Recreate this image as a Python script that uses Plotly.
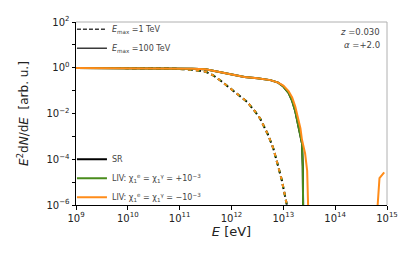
import plotly.graph_objects as go

# ---- data ----
# Emax = 100 TeV (solid)
E_solid = [1e9, 1e10, 3.16e10, 1e11, 1.78e11, 3.16e11, 5.62e11, 1e12, 1.78e12, 3.16e12,
           5.62e12, 7.94e12, 1e13, 1.26e13, 1.48e13, 1.70e13, 1.95e13, 2.14e13, 2.29e13,
           2.37e13, 2.43e13]
sr_solid = [0.977, 0.977, 0.955, 0.933, 0.912, 0.851, 0.661, 0.479, 0.398, 0.347,
            0.288, 0.224, 0.151, 0.0794, 0.0355, 0.0126, 0.00316, 0.00112, 5.0e-4,
            5.0e-5, 1e-7]
livp_solid = [0.977, 0.977, 0.955, 0.933, 0.912, 0.851, 0.661, 0.479, 0.398, 0.347,
              0.288, 0.224, 0.151, 0.0794, 0.0355, 0.0126, 0.00316, 0.00112, 5.0e-4,
              5.0e-5, 1e-7]
E_livm_solid = [1e9, 1e10, 3.16e10, 1e11, 1.78e11, 3.16e11, 5.62e11, 1e12, 1.78e12, 3.16e12,
                5.62e12, 7.94e12, 1e13, 1.26e13, 1.48e13, 1.70e13, 1.95e13, 2.14e13, 2.29e13,
                2.63e13, 2.88e13, 2.99e13, 3.09e13, None, 6.17e14, 7.16e14, 8.83e14]
livm_solid = [0.977, 0.977, 0.955, 0.933, 0.912, 0.851, 0.661, 0.479, 0.398, 0.347,
              0.288, 0.224, 0.166, 0.0955, 0.0501, 0.020, 0.0063, 0.00224, 7.1e-4,
              1.8e-4, 3.2e-5, 4e-6, 1e-7, None, 1e-7, 1.48e-5, 2.7e-5]

# Emax = 1 TeV (dashed)
E_dashed = [1e9, 1e10, 3.16e10, 1e11, 2e11, 3.16e11, 4.42e11, 6.31e11, 9.33e11, 1.41e12,
            2e12, 2.82e12, 3.55e12, 5.13e12, 6.46e12, 7.94e12, 9.33e12, 1.17e13, 1.26e13]
sr_dashed = [0.977, 0.977, 0.955, 0.891, 0.794, 0.676, 0.468, 0.263, 0.126, 0.0631,
             0.0324, 0.0126, 0.00617, 0.00112, 2.8e-4, 5.0e-5, 1.23e-5, 1e-6, 4e-7]
livp_dashed = sr_dashed
livm_dashed = sr_dashed

series_names = ["SR",
                "LIV: χ<sub>1</sub><sup>e</sup> = χ<sub>1</sub><sup>γ</sup> = +10<sup>−3</sup>",
                "LIV: χ<sub>1</sub><sup>e</sup> = χ<sub>1</sub><sup>γ</sup> = −10<sup>−3</sup>"]
series_colors = ["#000000", "#4a8c1c", "#ff8c1a"]

x_tickvals = [1e9, 1e10, 1e11, 1e12, 1e13, 1e14, 1e15]
x_ticktext = ["10<sup>9</sup>", "10<sup>10</sup>", "10<sup>11</sup>", "10<sup>12</sup>",
              "10<sup>13</sup>", "10<sup>14</sup>", "10<sup>15</sup>"]
y_tickvals = [1e-6, 1e-5, 1e-4, 1e-3, 1e-2, 1e-1, 1e0, 1e1, 1e2]
y_ticktext = ["10<sup>−6</sup>", "", "10<sup>−4</sup>", "", "10<sup>−2</sup>", "",
              "10<sup>0</sup>", "", "10<sup>2</sup>"]

FONT = "DejaVu Sans"

fig = go.Figure()

dashed_sets = [(E_dashed, sr_dashed), (E_dashed, livp_dashed), (E_dashed, livm_dashed)]
dash_styles = ["5px,3px", "4px,4px", "3px,5px"]
for (xs, ys), col, ds in zip(dashed_sets, series_colors, dash_styles):
    fig.add_trace(go.Scatter(x=xs, y=ys, mode="lines", showlegend=False,
                             line=dict(color=col, width=2, dash=ds)))

solid_sets = [(E_solid, sr_solid), (E_solid, livp_solid), (E_livm_solid, livm_solid)]
for (xs, ys), col, name in zip(solid_sets, series_colors, series_names):
    fig.add_trace(go.Scatter(x=xs, y=ys, mode="lines", name=name, connectgaps=False,
                             line=dict(color=col, width=2), legend="legend"))

# Emax legend (style keys)
fig.add_trace(go.Scatter(x=[None], y=[None], mode="lines",
                         name="<i>E</i><sub>max</sub> =1 TeV",
                         line=dict(color="#3a3a3a", width=1.5, dash="4px,2px"), legend="legend2"))
fig.add_trace(go.Scatter(x=[None], y=[None], mode="lines",
                         name="<i>E</i><sub>max</sub> =100 TeV",
                         line=dict(color="#3a3a3a", width=1.5), legend="legend2"))

# page body has an 8px margin, so the figure is sized to the visible area
fig.update_layout(
    width=403, height=246,
    margin=dict(l=68, r=24, t=14, b=49, autoexpand=False),
    paper_bgcolor="white", plot_bgcolor="white",
    font=dict(family=FONT, size=10, color="#222"),
    legend=dict(x=-0.013, y=-0.037, xanchor="left", yanchor="bottom",
                bgcolor="rgba(0,0,0,0)", font=dict(size=8, color="#444"),
                tracegroupgap=0),
    legend2=dict(x=-0.013, y=1.04, xanchor="left", yanchor="top",
                 bgcolor="rgba(0,0,0,0)", font=dict(size=8, color="#444")),
    annotations=[
        dict(x=0.985, y=0.985, xref="paper", yref="paper", xanchor="right", yanchor="top",
             text="<i>z</i> =0.030", showarrow=False, font=dict(size=8.5, color="#444")),
        dict(x=0.985, y=0.915, xref="paper", yref="paper", xanchor="right", yanchor="top",
             text="<i>α</i> =+2.0", showarrow=False, font=dict(size=8.5, color="#444")),
    ],
    shapes=[
        dict(type="line", xref="paper", yref="paper", x0=0, x1=1, y0=1, y1=1,
             line=dict(color="#b0b0b0", width=1)),
        dict(type="line", xref="paper", yref="paper", x0=1, x1=1, y0=0, y1=1,
             line=dict(color="#b0b0b0", width=1)),
    ],
)

fig.update_xaxes(type="log", range=[9, 15], tickvals=x_tickvals, ticktext=x_ticktext,
                 automargin=False,
                 showgrid=False, zeroline=False, showline=True, linecolor="black", linewidth=1,
                 ticks="outside", ticklen=3.5, tickcolor="black",
                 tickfont=dict(size=10, color="#222"),
                 title=dict(text="<i>E</i> [eV]", font=dict(size=13, color="#222"), standoff=4))
fig.update_yaxes(type="log", range=[-6, 2], tickvals=y_tickvals, ticktext=y_ticktext,
                 automargin=False,
                 showgrid=False, zeroline=False, showline=True, linecolor="black", linewidth=1,
                 ticks="outside", ticklen=3.5, tickcolor="black",
                 tickfont=dict(size=10, color="#222"),
                 title=dict(text="<i>E</i><sup>2</sup>d<i>N</i>/d<i>E</i>  [arb. u.]",
                            font=dict(size=12, color="#222")))

fig.write_html("out.html")
